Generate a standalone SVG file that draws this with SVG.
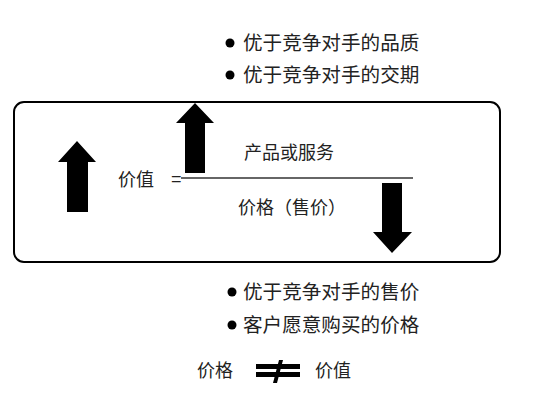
<svg xmlns="http://www.w3.org/2000/svg" width="557" height="400" viewBox="0 0 557 400">
<style>
.t{font-family:"Liberation Sans","Noto Sans CJK SC",sans-serif;fill:#222;dominant-baseline:central}
.b{font-size:19.6px}
.m{font-size:18px}
.arr{fill:#000}
</style>
<rect width="557" height="400" fill="#fff"/>
<g id="top-bullets">
<circle cx="230" cy="43" r="4.5" fill="#000"/>
<text class="t b" x="243" y="43">优于竞争对手的品质</text>
<circle cx="230" cy="75" r="4.5" fill="#000"/>
<text class="t b" x="243" y="75">优于竞争对手的交期</text>
</g>
<g id="value-box">
<rect x="14" y="102" width="486" height="160" rx="10" fill="none" stroke="#000" stroke-width="2"/>
<text class="t m" x="118" y="180">价值</text>
<text class="t m" x="171" y="179">=</text>
<line x1="181" y1="178" x2="413" y2="178" stroke="#333" stroke-width="1.5"/>
<text class="t m" x="289" y="153" text-anchor="middle">产品或服务</text>
<text class="t m" x="292" y="208" text-anchor="middle">价格（售价）</text>
</g>
<g id="arrows">
<polygon class="arr" points="195,103 214,123 205,123 205,173 185,173 185,123 176,123"/>
<polygon class="arr" points="77,141 96,162 88,162 88,212 67,212 67,162 58,162"/>
<polygon class="arr" points="382,183 402,183 402,232 412,232 392,253 373,232 382,232"/>
</g>
<g id="bottom-bullets">
<circle cx="232" cy="292" r="4.5" fill="#000"/>
<text class="t b" x="243" y="292">优于竞争对手的售价</text>
<circle cx="232" cy="325" r="4.5" fill="#000"/>
<text class="t b" x="243" y="325">客户愿意购买的价格</text>
</g>
<g id="not-equal">
<text class="t m" x="197" y="371">价格</text>
<rect x="256" y="364" width="44" height="5" fill="#000"/>
<rect x="256" y="372" width="44" height="5" fill="#000"/>
<polygon points="279,360 283,360 277,383 273,383" fill="#000"/>
<text class="t m" x="315" y="371">价值</text>
</g>
</svg>
